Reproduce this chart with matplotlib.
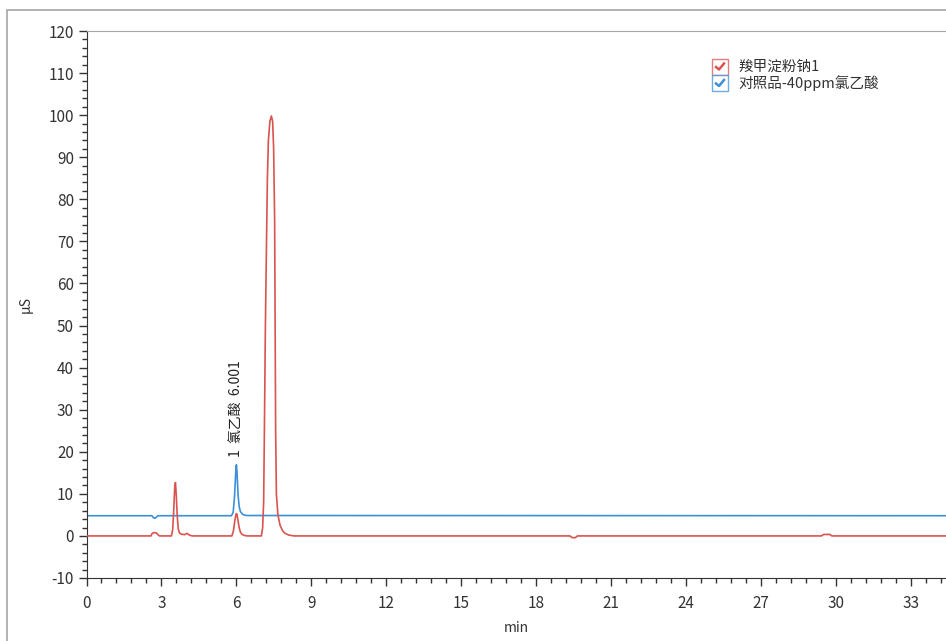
import matplotlib
matplotlib.use("Agg")
import matplotlib.pyplot as plt
from matplotlib.patches import Rectangle
from matplotlib.lines import Line2D
from matplotlib.ticker import MultipleLocator

plt.rcParams['font.family'] = ['Noto Sans CJK SC', 'DejaVu Sans']
plt.rcParams['axes.unicode_minus'] = False

# ---- data ----
red_name = "羧甲淀粉钠1"
blue_name = "对照品-40ppm氯乙酸"

red_t = [0.0, 2.58, 2.63, 2.70, 2.80, 2.86, 2.92, 3.40, 3.45, 3.49, 3.53, 3.56, 3.59, 3.63, 3.67,
         3.72, 3.80, 3.93, 3.98, 4.03, 4.09, 4.16, 4.25, 5.82, 5.88, 5.94, 5.99, 6.02, 6.06,
         6.11, 6.16, 6.22, 6.32, 6.45, 7.00, 7.05, 7.09, 7.12, 7.16, 7.21, 7.24, 7.28, 7.34,
         7.40, 7.45, 7.49, 7.53, 7.55, 7.57, 7.60, 7.66, 7.75, 7.85, 7.95, 8.10, 8.30,
         19.35, 19.42, 19.50, 19.58, 19.65, 29.42, 29.50, 29.75, 29.83, 34.4]
red_v = [0.0, 0.0, 0.6, 0.8, 0.7, 0.3, 0.0, 0.0, 1.5, 6.0, 11.5, 12.7, 10.0, 5.0, 1.8,
         0.7, 0.4, 0.3, 0.5, 0.6, 0.3, 0.1, 0.0, 0.0, 1.2, 3.8, 5.3, 5.2, 3.8,
         2.0, 0.9, 0.4, 0.1, 0.0, 0.0, 2.0, 8.0, 25.0, 50.0, 72.0, 85.0, 94.0, 98.5,
         99.8, 98.5, 92.0, 75.0, 50.0, 25.0, 10.0, 5.0, 2.5, 1.2, 0.6, 0.2, 0.0,
         0.0, -0.35, -0.45, -0.35, 0.0, 0.0, 0.35, 0.35, 0.0, 0.0]

blue_t = [0.0, 2.62, 2.68, 2.74, 2.80, 2.86, 5.80, 5.87, 5.92, 5.96, 5.98, 6.00, 6.02, 6.04,
          6.07, 6.11, 6.16, 6.25, 6.40, 34.4]
blue_v = [4.8, 4.8, 4.3, 4.2, 4.5, 4.8, 4.8, 5.6, 9.0, 13.5, 16.0, 16.9, 15.5, 13.0,
          9.5, 7.0, 5.8, 5.1, 4.85, 4.8]

peak_label = "1  氯乙酸  6.001"
peak_x = 6.0
peak_y = 18.8

x_ticks = [0, 3, 6, 9, 12, 15, 18, 21, 24, 27, 30, 33]
y_ticks = [-10, 0, 10, 20, 30, 40, 50, 60, 70, 80, 90, 100, 110, 120]

red_c = "#d9534f"
blue_c = "#3d8fd6"

W, H = 946, 641
fig = plt.figure(figsize=(W / 100, H / 100), dpi=100)
fig.patch.set_facecolor("white")

# outer frame
fig.add_artist(Rectangle((7 / W, -0.01), 1.1, (H - 10) / H + 0.01, transform=fig.transFigure,
                         fill=False, edgecolor="#a6a6a6", lw=1.2))

ax = fig.add_axes([86.5 / W, 63 / H, (W - 86.5) / W, 547 / H])
ax.plot(red_t, red_v, color=red_c, lw=1.2, zorder=3)
ax.plot(blue_t, blue_v, color=blue_c, lw=1.2, zorder=2)

ax.set_xlim(0, 34.4)
ax.set_ylim(-10, 120)
ax.set_xticks(x_ticks)
ax.set_yticks(y_ticks)
ax.xaxis.set_minor_locator(MultipleLocator(0.6))
ax.yaxis.set_minor_locator(MultipleLocator(2))

ax.spines['right'].set_visible(False)
ax.spines['top'].set_color("#a6a6a6")
ax.spines['left'].set_color("#333333")
ax.spines['bottom'].set_color("#333333")
ax.tick_params(axis='both', which='major', length=6, width=1, color="#333333",
               labelsize=11, labelcolor="#333333", direction='out')
ax.tick_params(axis='both', which='minor', length=3.5, width=1, color="#333333", direction='out')
ax.tick_params(axis='x', pad=6)
ax.tick_params(axis='y', pad=3)

ax.set_xlabel("min", fontsize=10, color="#333333")
ax.xaxis.set_label_coords(0.5, -(628 - 578) / 547)
ax.xaxis.label.set_va('center')
ax.set_ylabel("μS", fontsize=10, color="#333333")
ax.yaxis.set_label_coords((33 - 86.5) / 859.5, 0.5)

ax.text(peak_x, peak_y, peak_label, rotation=90, ha='center', va='bottom',
        fontsize=10, color="#222222", zorder=4)

# legend with check boxes
rows = [(red_name, red_c, 66.5), (blue_name, blue_c, 83)]
for name, col, yp in rows:
    bx, bs = 712, 16
    by = yp - bs / 2
    fig.add_artist(Rectangle((bx / W, 1 - (by + bs) / H), bs / W, bs / H,
                             transform=fig.transFigure, facecolor="white",
                             edgecolor=col, lw=1.0, alpha=0.75))
    fig.add_artist(Line2D([(bx + 4) / W, (bx + 7) / W, (bx + 12) / W],
                          [1 - (by + 8.5) / H, 1 - (by + 11) / H, 1 - (by + 5) / H],
                          transform=fig.transFigure, color=col, lw=1.8))
    fig.text(738 / W, 1 - yp / H, name, fontsize=10.5, color="#333333",
             ha='left', va='center')

fig.savefig("out.png", dpi=100)
